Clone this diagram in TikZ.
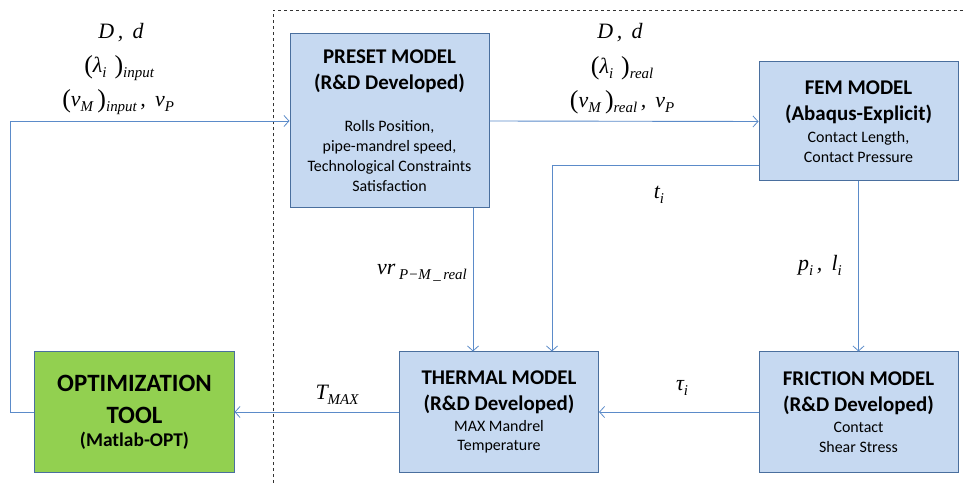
\documentclass[tikz,border=0pt]{standalone}
\usepackage{fontspec}
\setmainfont{Carlito}
\newfontfamily\eqfont{Liberation Serif}
\usetikzlibrary{arrows.meta}
\definecolor{boxblue}{HTML}{C6D9F1}
\definecolor{boxedge}{HTML}{4A6F9E}
\definecolor{boxgreen}{HTML}{92D050}
\definecolor{flowblue}{HTML}{5B8BC9}
\newcommand{\mhead}[1]{{\bfseries\fontsize{21}{20}\selectfont #1}}
\newcommand{\ohead}[1]{{\bfseries\fontsize{25}{20}\selectfont #1}}
\newcommand{\sub}[1]{\raisebox{-0.5ex}{\fontsize{15}{15}\selectfont #1}}
\newcommand{\bigp}[1]{{\upshape\fontsize{26}{26}\selectfont\raisebox{-0.1ex}{\,#1}}}
\begin{document}
\begin{tikzpicture}[x=1bp, y=-1bp,
        model/.style={draw=boxedge, fill=boxblue, line width=1bp, align=center,
                minimum width=199bp, inner sep=2bp, font=\fontsize{16}{20}\selectfont},
        optbox/.style={model, fill=boxgreen},
        flow/.style={draw=flowblue, line width=0.9bp,
                -{Straight Barb[length=5bp, width=11bp, line width=0.8bp]}},
        eq/.style={font=\eqfont\itshape\fontsize{22}{24}\selectfont, inner sep=1bp}]
        \useasboundingbox (0,0) rectangle (964,483);

        \draw[dashed, line width=0.9bp, black!80] (273,483) -- (273,10) -- (964,10);

        \node[model, minimum height=174bp] (preset) at (389.5,121)
        {\mhead{PRESET MODEL}\\[6bp]\mhead{(R\&D Developed)}\\[22bp]
                Rolls Position,\\pipe-mandrel speed,\\Technological Constraints\\Satisfaction};
        \node[model, minimum height=119bp] (fem) at (858.5,121.5)
        {\mhead{FEM MODEL}\\[6bp]\mhead{(Abaqus-Explicit)}\\[2bp]
                Contact Length,\\Contact Pressure};
        \node[model, minimum height=120bp] (thermal) at (499,412)
        {\mhead{THERMAL MODEL}\\[6bp]\mhead{(R\&D Developed)}\\[1bp]
                MAX Mandrel\\Temperature};
        \node[model, minimum height=120bp] (friction) at (858.5,412)
        {\mhead{FRICTION MODEL}\\[6bp]\mhead{(R\&D Developed)}\\[1bp]
                Contact\\Shear Stress};
        \node[optbox, minimum height=120bp] (opt) at (134.5,412)
        {\ohead{OPTIMIZATION}\\[12bp]\ohead{TOOL}\\[3bp]
                \textbf{\fontsize{19.5}{20}\selectfont (Matlab-OPT)}};

        \coordinate (loop) at (10,412);
        \coordinate (vrx) at (473,0);
        \coordinate (tix) at (552,0);
        \coordinate (tiy) at (0,165);

        \draw[flow] (opt.west) -- (loop) |- (preset.west);
        \draw[flow] (preset.east) -- (fem.west);
        \draw[flow] (vrx |- preset.south) -- (vrx |- thermal.north);
        \draw[flow] (fem.west |- tiy) -| (tix |- thermal.north);
        \draw[flow] (fem.south) -- (friction.north);
        \draw[flow] (friction.west) -- (thermal.east);
        \draw[flow] (thermal.west) -- (opt.east);

        \node[eq] (inDd) at (121,33) {D\,, \,d};
        \node[eq] (inlam) at (117,68) {\bigp{(}λ\sub{i}\,\bigp{)}\sub{input}};
        \node[eq] (inv) at (116,102) {\bigp{(}v\sub{M}\bigp{)}\sub{input}\,, \,v\sub{P}};
        \node[eq] (reDd) at (620,33) {D\,, \,d};
        \node[eq] (relam) at (620,68) {\bigp{(}λ\sub{i}\,\bigp{)}\sub{real}};
        \node[eq] (rev) at (620,102) {\bigp{(}v\sub{M}\bigp{)}\sub{real}\,, \,v\sub{P}};
        \node[eq] (vr) at (422,273) {vr\,\sub{P−M\,\_\,real}};
        \node[eq] (ti) at (659,195) {t\sub{i}};
        \node[eq] (pl) at (820,265) {p\sub{i}\,, \,l\sub{i}};
        \node[eq] (tau) at (682,388) {τ\sub{i}};
        \node[eq] (tmax) at (337,395) {T\sub{MAX}};
    \end{tikzpicture}
\end{document}
